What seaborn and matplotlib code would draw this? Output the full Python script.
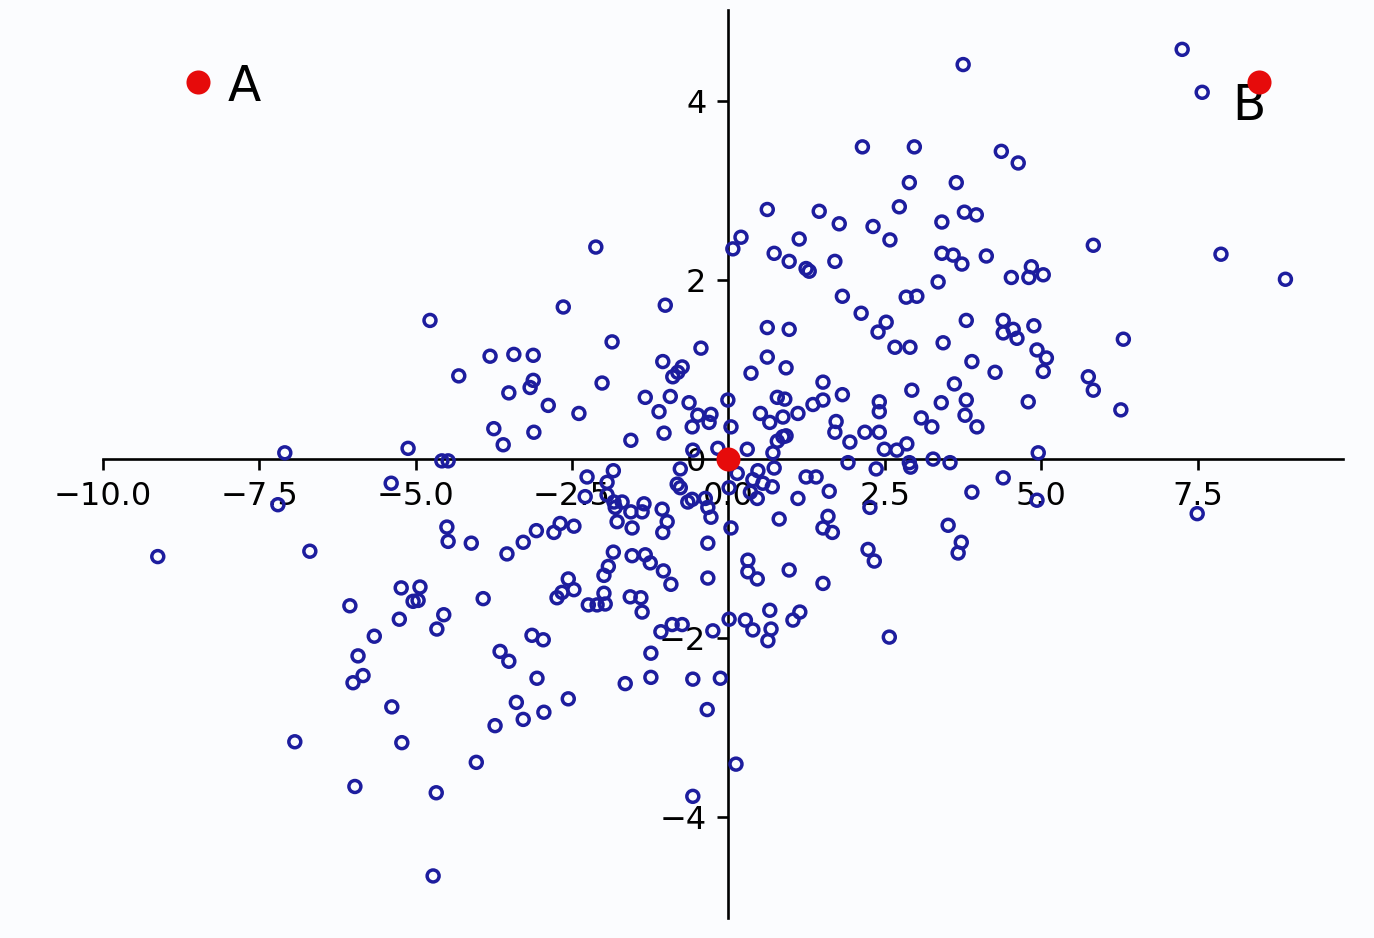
import numpy as np
import pandas as pd
import matplotlib
matplotlib.use("Agg")
import matplotlib.pyplot as plt
import seaborn as sns

# ---------------- data ----------------
top_x = [7.25, 3.75, 7.57, 2.14, 2.97, 4.36, 4.63, 2.89, 3.64, 0.62,
         1.45, 1.77, 2.31, 2.73, 3.41, 3.77, 3.96, 0.20, 0.07, 1.13,
         2.58, 0.73, 0.97, 1.24, 1.29, 1.70, 3.41, 3.59, 3.73, 4.12,
         3.35, 4.52, 4.84, 4.80, 5.03, 1.82, 2.84, 3.01, 2.12, 5.83,
         7.87, 8.90, -2.12, -2.64, -1.01, -4.77]
top_y = [4.58, 4.41, 4.10, 3.49, 3.49, 3.44, 3.31, 3.09, 3.09, 2.79,
         2.77, 2.63, 2.60, 2.82, 2.65, 2.76, 2.73, 2.48, 2.35, 2.46,
         2.45, 2.30, 2.21, 2.13, 2.10, 2.21, 2.30, 2.28, 2.18, 2.27,
         1.98, 2.03, 2.15, 2.03, 2.06, 1.82, 1.81, 1.82, 1.63, 2.39,
         2.29, 2.01, 2.37, 1.70, 1.72, 1.55]

midleft_x = [-1.86, -0.44, -3.81, -3.43, -3.12, -1.05, -0.74, -0.81, -0.89, -4.31,
             -3.12, -3.17, -2.02, -3.51, -1.33, -0.93, -2.88, -2.39, -1.11, -0.63,
             -0.49, -0.28, -0.31, -0.58, -3.75, -3.11, -1.03, -1.56, -3.60, -0.17,
             -0.57, -4.58, -4.48, -7.09, -5.12, -0.01]
midleft_y = [1.31, 1.24, 1.15, 1.17, 1.16, 1.09, 1.03, 0.97, 0.92, 0.93,
             0.88, 0.80, 0.85, 0.74, 0.69, 0.70, 0.60, 0.51, 0.53, 0.63,
             0.49, 0.50, 0.41, 0.36, 0.34, 0.30, 0.29, 0.21, 0.16, 0.12,
             0.10, -0.02, -0.02, 0.07, 0.12, 0.66]

midright_x = [0.62, 0.97, 2.52, 2.39, 3.80, 4.39, 4.39, 4.55, 4.61, 4.88,
              2.66, 2.90, 3.43, 0.62, 0.92, 0.36, 3.89, 4.26, 4.93, 5.08,
              5.03, 1.51, 1.82, 0.78, 0.90, 1.35, 1.51, 1.11, 0.51, 0.66,
              0.87, 2.93, 3.61, 3.40, 3.80, 2.41, 2.41, 1.72, 1.70, 2.18,
              2.41, 1.94, 3.08, 3.25, 3.78, 3.97, 4.79, 0.04, 0.30, 0.87,
              0.78, 0.92, 0.71, 2.49, 2.69, 2.85, 1.91, 2.36, 2.89, 2.91,
              3.27, 3.54, 4.95, 4.39, 3.89, 0.14, 0.47, 0.73, 0.39, 0.55,
              0.70, 0.35, 0.46, 1.24, 1.40, 1.61, 1.11, 2.26, 0.01, 4.93,
              0.81, 1.59, 1.51, 1.66, 0.04, 3.51, 3.72, 3.67, 2.23, 2.33,
              0.31, 0.31, 0.46, 0.97, 1.51, 0.66, 1.14, 1.03, 0.27, 0.01,
              0.39, 0.68, 0.63, 2.57, 0.12, 7.49, 6.31, 5.75, 5.83, 6.27]
midright_y = [1.47, 1.45, 1.53, 1.42, 1.55, 1.55, 1.41, 1.45, 1.35, 1.49,
              1.25, 1.25, 1.30, 1.14, 1.02, 0.96, 1.09, 0.97, 1.22, 1.13,
              0.98, 0.86, 0.72, 0.69, 0.67, 0.61, 0.66, 0.51, 0.51, 0.41,
              0.47, 0.77, 0.84, 0.63, 0.66, 0.64, 0.53, 0.42, 0.30, 0.30,
              0.30, 0.19, 0.46, 0.36, 0.49, 0.36, 0.64, 0.36, 0.11, 0.25,
              0.20, 0.26, 0.07, 0.11, 0.10, 0.17, -0.04, -0.11, -0.04, -0.09,
              0.00, -0.04, 0.07, -0.21, -0.37, -0.16, -0.13, -0.10, -0.23, -0.27,
              -0.31, -0.37, -0.44, -0.20, -0.20, -0.36, -0.44, -0.54, -0.32, -0.46,
              -0.67, -0.64, -0.77, -0.82, -0.77, -0.74, -0.93, -1.05, -1.01, -1.14,
              -1.13, -1.26, -1.34, -1.24, -1.39, -1.69, -1.71, -1.80, -1.80, -1.79,
              -1.91, -1.90, -2.03, -1.99, -3.41, -0.61, 1.34, 0.92, 0.77, 0.55]

lowleft_x = [-5.39, -7.20, -9.12, -6.69, -5.23, -5.04, -6.05, -5.26, -1.84, -2.26,
             -0.77, -1.94, -0.82, -0.77, -2.29, -1.94, -1.83, -1.70, -1.56, -1.38,
             -1.35, -1.06, -1.81, -0.65, -0.58, -0.37, -0.33, -0.28, -0.98, -1.05,
             -1.78, -1.54, -4.50, -4.48, -4.11, -2.69, -2.47, -2.79, -3.07, -3.28,
             -3.54, -0.33, -1.84, -1.54, -1.33, -1.25, -1.92, -1.99, -1.04, -0.92,
             -0.33, -2.56, -2.47, -2.66, -2.74, -4.93, -4.96, -3.92, -1.99, -2.24,
             -2.10, -1.97, -1.57, -1.40, -1.38, -4.55, -4.66, -5.66, -5.92, -5.84,
             -6.00, -5.38, -6.93, -5.22, -5.97, -3.14, -2.96, -3.65, -3.51, -3.06,
             -3.39, -3.73, -3.28, -2.95, -2.56, -1.65, -1.24, -1.24, -1.08, -0.90,
             -0.74, -0.25, -0.57, -0.13, -0.34, -4.03, -4.67, -0.57, -4.72]
lowleft_y = [-0.27, -0.51, -1.09, -1.03, -1.44, -1.59, -1.64, -1.79, -0.13, -0.20,
             -0.11, -0.26, -0.28, -0.32, -0.42, -0.40, -0.48, -0.48, -0.59, -0.59,
             -0.50, -0.56, -0.54, -0.48, -0.45, -0.44, -0.54, -0.65, -0.70, -0.82,
             -0.70, -0.77, -0.76, -0.92, -0.94, -0.72, -0.75, -0.82, -0.80, -0.93,
             -1.06, -0.94, -1.04, -1.08, -1.07, -1.16, -1.20, -1.30, -1.25, -1.40,
             -1.33, -1.34, -1.46, -1.49, -1.55, -1.43, -1.58, -1.56, -1.50, -1.63,
             -1.63, -1.62, -1.54, -1.55, -1.71, -1.74, -1.90, -1.98, -2.20, -2.42,
             -2.50, -2.77, -3.16, -3.17, -3.66, -1.97, -2.02, -2.15, -2.26, -2.45,
             -2.72, -2.98, -2.91, -2.83, -2.68, -2.51, -2.17, -2.44, -1.93, -1.85,
             -1.85, -1.92, -2.46, -2.45, -2.80, -3.39, -3.73, -3.77, -4.66]

special_labels = ["A", "O", "B"]
special_x = [-8.48, 0.0, 8.47]
special_y = [4.22, 0.0, 4.22]

x_ticks = [-10.0, -7.5, -5.0, -2.5, 0.0, 2.5, 5.0, 7.5]
y_ticks = [-4, -2, 0, 2, 4]

# ---------------- plot ----------------
sns.set_style("white")
plt.rcParams["font.family"] = ["DejaVu Sans"]

bg = "#fbfcfe"
fig = plt.figure(figsize=(13.74, 9.38), dpi=100, facecolor=bg)
ax = fig.add_axes([102.7 / 1374, 20 / 938, 1240.3 / 1374, 908 / 938])
ax.set_facecolor(bg)

pts = pd.DataFrame({
    "x": top_x + midleft_x + midright_x + lowleft_x,
    "y": top_y + midleft_y + midright_y + lowleft_y,
})
sp = pd.DataFrame({"x": special_x, "y": special_y, "label": special_labels})

sns.scatterplot(data=pts, x="x", y="y", ax=ax, s=74, marker="o",
                facecolor="none", edgecolor="#1d1d9e", linewidth=2.5,
                zorder=3)
sns.scatterplot(data=sp, x="x", y="y", ax=ax, s=300, color="#e60b0b",
                edgecolor="#e60b0b", linewidth=0, zorder=4)

ax.text(-8.0, 4.0, "A", fontsize=35, ha="left", va="baseline", color="black")
ax.text(8.05, 3.79, "B", fontsize=35, ha="left", va="baseline", color="black")

ax.set_xlim(-10.0, 9.82)
ax.set_ylim(-5.13, 5.02)
ax.set_xticks(x_ticks)
ax.set_yticks(y_ticks)
ax.set_xlabel("")
ax.set_ylabel("")

for side in ["top", "right"]:
    ax.spines[side].set_visible(False)
for side in ["left", "bottom"]:
    ax.spines[side].set_position("zero")
    ax.spines[side].set_color("black")
    ax.spines[side].set_linewidth(1.9)
    ax.spines[side].set_zorder(2)

ax.tick_params(axis="both", which="major", direction="out", length=8,
               width=1.9, labelsize=23, pad=8, color="black",
               labelcolor="black", left=True, bottom=True)
ax.grid(False)

fig.savefig("out.png", dpi=100, facecolor=bg)
